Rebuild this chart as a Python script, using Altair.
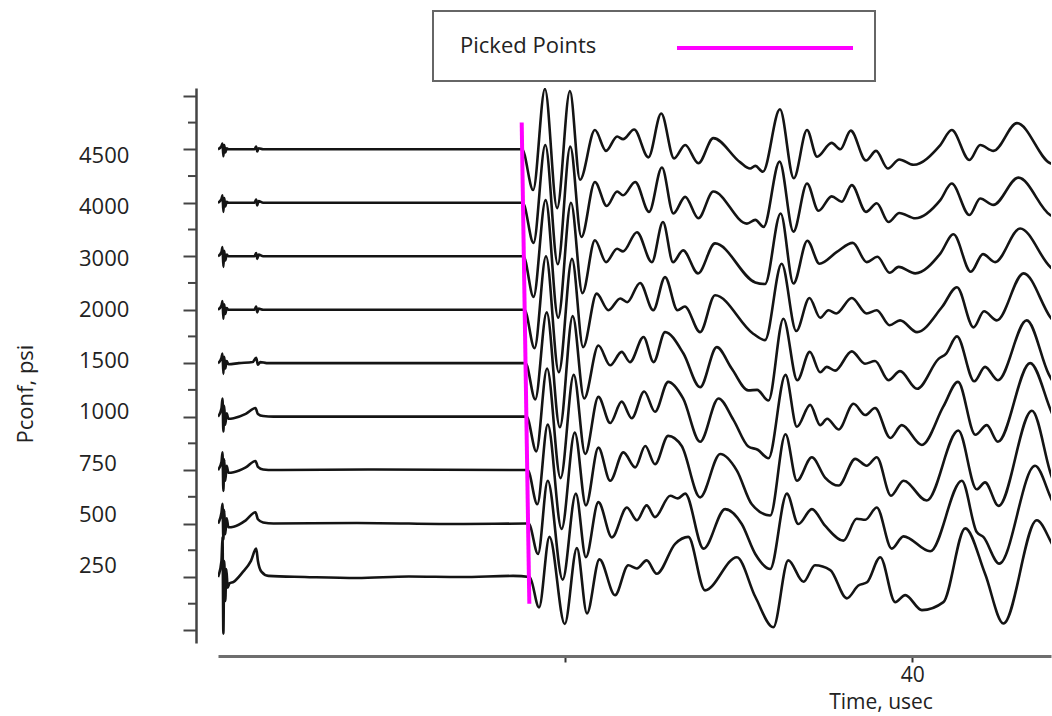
import altair as alt
import pandas as pd

# ---------------- data ----------------
# confining pressure of each trace, bottom to top
pressures = ["250", "500", "750", "1000", "1500", "2000", "3000", "4000", "4500"]

# time (usec) and amplitude (in units of the trace spacing) of each trace
t250 = [20.0, 20.1, 20.13, 20.155, 20.18, 20.21, 20.24, 20.28, 20.33, 20.45, 20.7, 20.95, 21.1, 21.15, 21.25, 21.45,
        22.5, 24.0, 25.5, 27.0, 28.5, 28.98, 29.25, 29.55, 29.99, 30.34, 30.63, 30.99, 31.44, 31.82, 32.07, 32.35,
        32.64, 33.17, 33.55, 34.03, 34.95, 35.48, 36.0, 36.43, 36.87, 37.2, 37.64, 38.12, 38.45, 38.7, 39.08, 39.51,
        39.8, 40.28, 40.9, 41.53, 42.1, 42.63, 43.59, 44.03, 44.3]
a250 = [0, 0.3, 0.75, -1.06, 0.3, -0.45, 0.15, -0.2, -0.12, -0.09, 0.08, 0.3, 0.53, 0.3, 0.1, 0.02,
        0.0, -0.02, 0.01, 0.0, 0.02, 0.0, -0.57, 0.75, -0.88, 0.54, -0.68, 0.33, -0.34, 0.22, 0.16, 0.31,
        0.06, 0.62, 0.75, -0.25, 0.37, -0.37, -0.94, 0.31, -0.09, 0.22, 0.13, -0.40, -0.16, -0.10, 0.37, -0.47,
        -0.34, -0.62, -0.47, 0.91, 0.06, -0.87, 1.06, 0.62, 0.3]

t500 = [20.0, 20.1, 20.13, 20.155, 20.18, 20.21, 20.25, 20.3, 20.45, 20.8, 21.08, 21.15, 21.3, 21.6, 24.0, 27.0,
        28.95, 29.22, 29.5, 29.93, 30.31, 30.6, 30.96, 31.35, 31.78, 32.07, 32.35, 32.59, 33.03, 33.25, 33.46,
        33.99, 34.61, 35.09, 35.48, 35.91, 36.39, 36.72, 37.11, 37.49, 38.02, 38.4, 38.65, 38.98, 39.41, 39.75,
        40.52, 41.43, 41.86, 42.05, 42.51, 43.54, 44.03, 44.3]
a500 = [0, 0.2, 0.37, -0.3, 0.25, -0.2, 0.1, -0.07, -0.06, 0.06, 0.21, 0.08, 0.02, 0, 0.01, -0.01,
        0, -0.57, 0.8, -1.05, 0.56, -0.63, 0.4, -0.26, 0.30, 0.06, 0.34, 0.12, 0.52, 0.47, 0.56,
        -0.47, 0.27, -0.01, -0.57, -0.85, 0.56, -0.01, 0.27, -0.04, -0.32, 0.09, 0.07, 0.30, -0.47, -0.24,
        -0.52, 0.80, -0.16, -0.25, -0.75, 1.08, 0.43, 0.1]

t750 = [20.0, 20.1, 20.13, 20.155, 20.18, 20.21, 20.25, 20.3, 20.45, 20.8, 21.08, 21.15, 21.3, 21.6, 24.5,
        28.92, 29.2, 29.5, 29.9, 30.28, 30.6, 30.96, 31.3, 31.68, 32.02, 32.31, 32.59, 32.97, 33.36, 33.89,
        34.47, 34.95, 35.38, 35.91, 36.35, 36.68, 37.11, 37.49, 37.88, 38.36, 38.69, 38.98, 39.39, 39.75,
        40.42, 41.33, 41.86, 42.1, 42.49, 43.45, 44.03, 44.3]
a750 = [0, 0.15, 0.33, -0.39, 0.2, -0.2, 0.08, -0.05, -0.04, 0.05, 0.17, 0.06, 0.01, 0, 0.01,
        0, -0.64, 0.85, -1.1, 0.7, -0.66, 0.42, -0.2, 0.33, 0.05, 0.45, 0.11, 0.64, 0.45, -0.51,
        0.30, -0.01, -0.64, -0.85, 0.67, -0.2, 0.24, -0.14, -0.29, 0.21, 0.08, 0.24, -0.48, -0.2,
        -0.57, 0.74, -0.36, -0.23, -0.67, 1.11, -0.14, -0.5]

t1000 = [20.0, 20.1, 20.13, 20.155, 20.18, 20.21, 20.25, 20.3, 20.45, 20.8, 21.08, 21.15, 21.3, 21.6, 25.0,
         28.89, 29.17, 29.48, 29.87, 30.25, 30.58, 30.96, 31.3, 31.63, 31.92, 32.28, 32.59, 32.97, 33.4, 33.89,
         34.42, 34.85, 35.28, 35.55, 35.86, 36.35, 36.68, 37.06, 37.35, 37.55, 37.88, 38.31, 38.65, 38.93,
         39.37, 39.7, 40.28, 40.9, 41.32, 41.82, 42.15, 42.47, 43.4, 44.03, 44.3]
a1000 = [0, 0.15, 0.34, -0.28, 0.2, -0.15, 0.06, -0.04, -0.03, 0.05, 0.16, 0.05, 0.01, 0, 0,
         0, -0.65, 0.9, -1.15, 0.78, -0.7, 0.37, -0.12, 0.28, -0.03, 0.47, 0.09, 0.65, 0.34, -0.47,
         0.34, -0.06, -0.56, -0.62, -0.78, 0.78, -0.19, 0.22, -0.16, -0.04, -0.24, 0.24, 0.03, 0.16,
         -0.40, -0.16, -0.53, 0.19, 0.65, -0.34, -0.16, -0.47, 1.0, 0.06, -0.3]

t1500 = [20.0, 20.1, 20.13, 20.155, 20.18, 20.21, 20.25, 20.3, 20.6, 21.0, 21.1, 21.15, 21.22, 21.4, 25.0,
         28.86, 29.14, 29.47, 29.85, 30.22, 30.55, 30.96, 31.3, 31.63, 31.87, 32.26, 32.55, 32.88, 33.41,
         33.89, 34.37, 34.8, 35.28, 35.53, 35.86, 36.29, 36.69, 37.05, 37.35, 37.54, 37.78, 38.26, 38.64,
         38.93, 39.32, 39.65, 40.14, 40.76, 40.98, 41.29, 41.79, 42.1, 42.47, 43.3, 43.93, 44.3]
a1500 = [0, 0.1, 0.18, -0.2, 0.12, -0.1, 0.04, -0.02, 0, 0.02, 0.1, -0.03, 0.02, 0, 0,
         0, -0.68, 0.95, -1.2, 0.88, -0.66, 0.33, -0.04, 0.21, 0.02, 0.49, 0.02, 0.58, 0.18,
         -0.45, 0.30, -0.10, -0.51, -0.5, -0.70, 0.83, -0.32, 0.21, -0.17, -0.07, -0.14, 0.22, -0.01,
         0.04, -0.32, -0.15, -0.48, 0.08, 0.18, 0.50, -0.34, -0.07, -0.32, 0.80, -0.20, -0.6]

t2000 = [20.0, 20.1, 20.13, 20.155, 20.18, 20.21, 20.25, 20.3, 21.05, 21.1, 21.13, 21.17, 21.3, 25.0,
         28.83, 29.12, 29.45, 29.82, 30.2, 30.52, 30.91, 31.25, 31.59, 31.79, 32.16, 32.54, 32.88, 33.24,
         33.45, 33.89, 34.32, 35.42, 35.76, 36.24, 36.66, 37.04, 37.35, 37.59, 37.81, 38.26, 38.69, 38.98,
         39.35, 39.65, 40.14, 40.86, 41.29, 41.77, 42.07, 42.44, 43.21, 43.98, 44.3]
a2000 = [0, 0.08, 0.16, -0.17, 0.1, -0.08, 0.03, 0, 0, 0.06, -0.05, 0.02, 0, 0,
         0, -0.72, 1.0, -1.17, 0.95, -0.70, 0.30, -0.01, 0.21, 0.14, 0.50, -0.01, 0.61, -0.01,
         0.06, -0.42, 0.27, -0.45, -0.57, 0.86, -0.40, 0.22, -0.15, -0.01, -0.07, 0.22, -0.07, -0.01,
         -0.29, -0.20, -0.42, 0.05, 0.42, -0.33, -0.03, -0.20, 0.68, -0.14, -0.4]

t3000 = [20.0, 20.1, 20.13, 20.155, 20.18, 20.21, 20.25, 20.3, 21.05, 21.1, 21.13, 21.17, 21.3, 25.0,
         28.8, 29.09, 29.44, 29.8, 30.17, 30.5, 30.86, 31.18, 31.5, 31.67, 32.07, 32.5, 32.82, 33.11,
         33.4, 33.83, 34.32, 35.48, 35.76, 36.21, 36.58, 36.98, 37.33, 37.83, 38.29, 38.69, 39.0,
         39.35, 39.61, 40.09, 40.81, 41.19, 41.69, 42.04, 42.39, 43.11, 43.98, 44.3]
a3000 = [0, 0.08, 0.17, -0.2, 0.1, -0.08, 0.03, 0, 0, 0.06, -0.05, 0.03, 0, 0,
         0, -0.76, 1.05, -1.15, 1.0, -0.69, 0.30, -0.11, 0.14, 0.09, 0.45, -0.11, 0.64, -0.11,
         0.11, -0.32, 0.24, -0.49, -0.52, 0.80, -0.51, 0.29, -0.14, 0.08, 0.25, -0.11, -0.01,
         -0.31, -0.20, -0.32, 0.05, 0.41, -0.29, 0.04, -0.11, 0.52, -0.20, -0.35]

t4000 = [20.0, 20.1, 20.13, 20.155, 20.18, 20.21, 20.25, 20.3, 21.05, 21.1, 21.13, 21.17, 21.3, 25.0,
         28.78, 29.09, 29.43, 29.79, 30.15, 30.47, 30.86, 31.2, 31.5, 31.67, 32.02, 32.42, 32.79, 33.12,
         33.46, 33.84, 34.27, 35.24, 35.48, 35.72, 36.18, 36.58, 36.97, 37.3, 37.68, 37.97, 38.26, 38.67,
         38.98, 39.32, 39.63, 40.09, 40.81, 41.14, 41.65, 41.96, 42.34, 43.06, 43.98, 44.3]
a4000 = [0, 0.07, 0.14, -0.17, 0.09, -0.07, 0.02, 0, 0, 0.06, -0.05, 0.03, 0, 0,
         0, -0.75, 1.08, -1.15, 1.05, -0.64, 0.39, -0.06, 0.21, 0.14, 0.39, -0.17, 0.66, -0.2,
         0.11, -0.29, 0.21, -0.39, -0.32, -0.45, 0.77, -0.54, 0.36, -0.15, 0.12, 0.02, 0.33, -0.17,
         -0.01, -0.36, -0.19, -0.29, 0.05, 0.36, -0.23, 0.08, -0.04, 0.47, -0.23, -0.3]

t4500 = [20.0, 20.1, 20.13, 20.155, 20.18, 20.21, 20.25, 20.3, 21.05, 21.1, 21.13, 21.17, 21.3, 25.0,
         28.76, 29.08, 29.42, 29.77, 30.14, 30.43, 30.86, 31.18, 31.5, 31.67, 31.99, 32.4, 32.77, 33.14,
         33.46, 33.84, 34.27, 35.04, 35.33, 35.48, 35.7, 36.19, 36.59, 36.97, 37.26, 37.68, 37.93, 38.23,
         38.67, 38.96, 39.3, 39.63, 40.04, 40.81, 41.14, 41.65, 41.96, 42.34, 43.02, 43.98, 44.3]
a4500 = [0, 0.06, 0.11, -0.13, 0.08, -0.06, 0.02, 0, 0, 0.05, -0.04, 0.02, 0, 0,
         0, -0.76, 1.13, -1.1, 1.09, -0.57, 0.36, -0.03, 0.24, 0.19, 0.37, -0.15, 0.67, -0.17,
         0.08, -0.26, 0.21, -0.24, -0.36, -0.31, -0.42, 0.75, -0.54, 0.36, -0.14, 0.12, 0.0, 0.35,
         -0.21, -0.03, -0.36, -0.19, -0.29, 0.08, 0.36, -0.2, 0.08, -0.03, 0.49, -0.26, -0.3]

# picked first arrivals (magenta line): time and trace level at its two ends
pick_time = [28.97, 28.75]
pick_level = [-0.5, 8.5]

# axis ticks
x_ticks = [30, 40]
y_major = [-1, 0, 1, 2, 3, 4, 5, 6, 7, 8, 9]
y_minor = [-0.5, 0.5, 1.5, 2.5, 3.5, 4.5, 5.5, 6.5, 7.5, 8.5]

legend_label = ["Picked Points"]
y_title = ["Pconf, psi"]
x_title = ["Time, usec"]

# ---------------- tables ----------------
trace_times = [t250, t500, t750, t1000, t1500, t2000, t3000, t4000, t4500]
trace_amps = [a250, a500, a750, a1000, a1500, a2000, a3000, a4000, a4500]
rows = []
for k, p in enumerate(pressures):
    ts, amps = trace_times[k], trace_amps[k]
    assert len(ts) == len(amps), p
    for t, a in zip(ts, amps):
        rows.append({"pressure": p, "t": t, "v": k + a})
traces = pd.DataFrame(rows)
picks = pd.DataFrame({"t": pick_time, "v": pick_level})
labels = pd.DataFrame({"pressure": pressures, "order": list(range(len(pressures)))})

FONT = "Open Sans"
INK = "#222222"

x_scale = alt.Scale(domain=[20, 44], nice=False, zero=False)
y_scale = alt.Scale(domain=[-1.235, 9.147], nice=False, zero=False)

lines = alt.Chart(traces).mark_line(
    color="#141414", strokeWidth=2.6, interpolate="monotone", clip=True
).encode(
    x=alt.X("t:Q", scale=x_scale,
            axis=alt.Axis(values=x_ticks, labelExpr="datum.value == 40 ? '40' : ''", title=None,
                          offset=13, grid=False, domainColor="#6e6e6e", domainWidth=3,
                          tickColor="#333333", tickWidth=2, tickSize=6, labelFont=FONT,
                          labelFontSize=21, labelColor=INK, labelPadding=2)),
    y=alt.Y("v:Q", scale=y_scale,
            axis=alt.Axis(values=y_major, labels=False, title=None, orient="left", offset=22,
                          grid=False, domainColor="#444444", domainWidth=2.5,
                          tickColor="#444444", tickWidth=2, tickSize=13)),
    detail="pressure:N",
)

minor = alt.Chart(pd.DataFrame({"v": y_minor})).mark_rule(color="#444444", strokeWidth=2).encode(
    y=alt.Y("v:Q", scale=y_scale, axis=None),
    x=alt.value(-30), x2=alt.value(-22),
)

pick_line = alt.Chart(picks).mark_line(color="#ff00ff", strokeWidth=4).encode(
    x=alt.X("t:Q", scale=x_scale),
    y=alt.Y("v:Q", scale=y_scale, axis=None),
)

ylabels = alt.Chart(labels).mark_text(
    align="left", baseline="middle", font=FONT, fontSize=22, color=INK
).encode(
    x=alt.value(-139),
    y=alt.Y("order:Q", scale=alt.Scale(domain=[-1.502, 9.327], nice=False, zero=False), axis=None),
    text="pressure:N",
)

ytitle = alt.Chart(pd.DataFrame({"s": y_title})).mark_text(
    angle=270, align="center", baseline="alphabetic", font=FONT, fontSize=22, color=INK
).encode(x=alt.value(-185), y=alt.value(306), text="s:N")

xtitle = alt.Chart(pd.DataFrame({"s": x_title})).mark_text(
    align="center", baseline="alphabetic", font=FONT, fontSize=21, color=INK
).encode(x=alt.value(663), y=alt.value(621), text="s:N")

legend_box = alt.Chart(pd.DataFrame({"s": legend_label})).mark_rect(
    fill="white", stroke="#666666", strokeWidth=2
).encode(x=alt.value(215), x2=alt.value(657), y=alt.value(-77), y2=alt.value(-7))

legend_text = alt.Chart(pd.DataFrame({"s": legend_label})).mark_text(
    align="left", baseline="alphabetic", font=FONT, fontSize=22, color=INK
).encode(x=alt.value(242), y=alt.value(-35), text="s:N")

legend_line = alt.Chart(pd.DataFrame({"s": legend_label})).mark_rule(
    color="#ff00ff", strokeWidth=4
).encode(x=alt.value(459), x2=alt.value(635), y=alt.value(-40))

chart = alt.layer(
    legend_box, legend_text, legend_line, lines, minor, pick_line, ylabels, ytitle, xtitle
).resolve_scale(y="independent").properties(
    width=833, height=555,
    padding={"left": 218, "top": 88, "right": 1, "bottom": 73},
    autosize=alt.AutoSizeParams(type="none"),
    background="white",
).configure_view(strokeWidth=0)

chart.save("out.html", embed_options={"renderer": "svg", "actions": False})
